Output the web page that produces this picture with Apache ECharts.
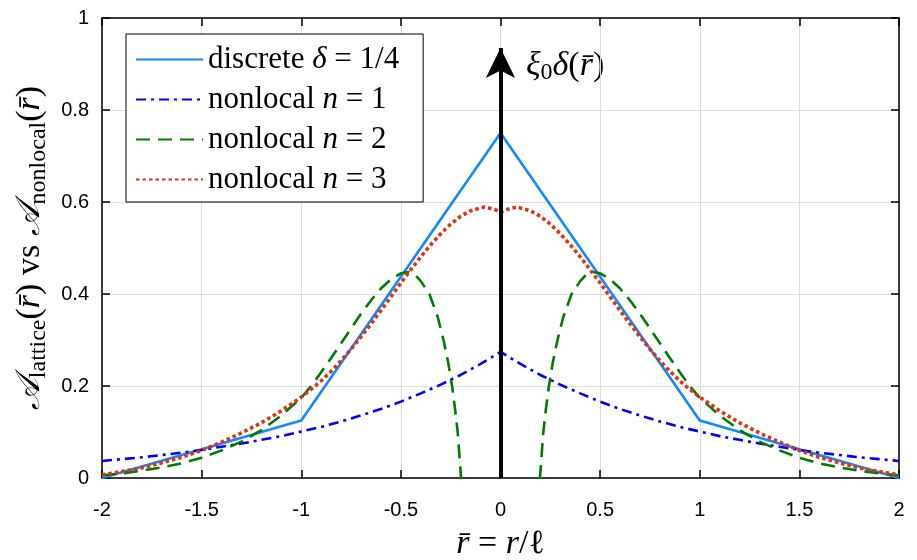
<!DOCTYPE html>
<html>
<head>
<meta charset="utf-8">
<script src="https://cdn.jsdelivr.net/npm/echarts@6/dist/echarts.min.js"></script>
<style>
  html, body { margin: 0; padding: 0; background: #fff; }
  #chart { width: 917px; height: 560px; }
</style>
</head>
<body>
<div id="chart"></div>
<script>
// tick values
const xTicks = [-2, -1.5, -1, -0.5, 0, 0.5, 1, 1.5, 2];
const yTicks = [0, 0.2, 0.4, 0.6, 0.8, 1];

// discrete lattice, delta = 1/4 (knots at integer sites)
const discreteX = [-2, -1, 0, 1, 2];
const discreteY = [0, 0.125, 0.75, 0.125, 0];

// nonlocal n = 1, right half (symmetric)
const n1X = [0, 0.1, 0.2, 0.3, 0.4, 0.5, 0.6, 0.7, 0.8, 0.9, 1.0, 1.1, 1.2, 1.3, 1.4, 1.5, 1.6, 1.7, 1.8, 1.9, 2.0];
const n1Y = [0.274, 0.248, 0.224, 0.203, 0.184, 0.166, 0.150, 0.136, 0.123, 0.111, 0.101, 0.091, 0.083, 0.075, 0.068, 0.061, 0.055, 0.050, 0.045, 0.041, 0.037];

// nonlocal n = 2, right half (dips below zero near the origin)
const n2X = [0.19, 0.198, 0.205, 0.215, 0.228, 0.243, 0.262, 0.286, 0.315, 0.357, 0.4, 0.43, 0.46, 0.5, 0.55, 0.6, 0.65, 0.7, 0.75, 0.8, 0.85, 0.9, 0.95, 1.0, 1.1, 1.2, 1.3, 1.4, 1.5, 1.6, 1.7, 1.8, 1.9, 2.0];
const n2Y = [-0.05, 0, 0.042, 0.1, 0.15, 0.2, 0.25, 0.3, 0.35, 0.4, 0.428, 0.442, 0.448, 0.445, 0.432, 0.412, 0.386, 0.357, 0.325, 0.293, 0.261, 0.23, 0.2, 0.174, 0.136, 0.104, 0.079, 0.060, 0.044, 0.032, 0.023, 0.016, 0.010, 0.006];

// nonlocal n = 3, right half
const n3X = [0, 0.025, 0.05, 0.08, 0.1, 0.15, 0.2, 0.25, 0.3, 0.35, 0.4, 0.45, 0.5, 0.55, 0.6, 0.65, 0.7, 0.75, 0.8, 0.85, 0.9, 0.95, 1.0, 1.1, 1.2, 1.3, 1.4, 1.5, 1.6, 1.7, 1.8, 1.9, 2.0];
const n3Y = [0.578, 0.583, 0.586, 0.589, 0.587, 0.581, 0.569, 0.552, 0.531, 0.507, 0.481, 0.453, 0.424, 0.394, 0.364, 0.335, 0.307, 0.280, 0.255, 0.232, 0.211, 0.193, 0.176, 0.146, 0.120, 0.098, 0.078, 0.060, 0.045, 0.033, 0.022, 0.014, 0.007];

// delta spike drawn as an arrow
const spikeX = 0;
const spikeTop = 0.935;

function pairs(xs, ys) {
  return xs.map((x, i) => [x, ys[i]]);
}
// both halves of a symmetric curve
function mirror(xs, ys) {
  const left = xs.map((x, i) => [-x, ys[i]]).reverse();
  const right = pairs(xs, ys);
  if (xs[0] === 0) left.pop();
  return left.concat(right);
}
// the n=2 curve is drawn as two separate pieces
function mirrorSplit(xs, ys) {
  const left = xs.map((x, i) => [-x, ys[i]]).reverse();
  return left.concat([[0, null]], pairs(xs, ys));
}

const serif = 'Liberation Serif';
const legendNames = {
  d: '{r|discrete }{i|δ}{r| = 1/4}',
  n1: '{r|nonlocal }{i|n}{r| = 1}',
  n2: '{r|nonlocal }{i|n}{r| = 2}',
  n3: '{r|nonlocal }{i|n}{r| = 3}'
};

const chart = echarts.init(document.getElementById('chart'), null, { renderer: 'canvas' });

const axisCommon = {
  type: 'value',
  axisLine: { show: true, onZero: false, lineStyle: { color: '#000', width: 1.5 } },
  axisTick: { show: true, inside: true, length: 8, lineStyle: { color: '#000', width: 1.5 } },
  minorTick: { show: false }
};

const option = {
  animation: false,
  backgroundColor: '#fff',
  grid: { left: 102, right: 18, top: 18, bottom: 82, containLabel: false, outerBoundsMode: 'none' },
  legend: {
    orient: 'vertical',
    left: 126,
    top: 34,
    itemWidth: 67,
    itemHeight: 14,
    itemGap: 9,
    padding: [10, 24, 7, 9],
    backgroundColor: '#fff',
    borderColor: '#000',
    borderWidth: 1,
    borderRadius: 0,
    data: ['d', 'n1', 'n2', 'n3'],
    formatter: name => legendNames[name],
    itemStyle: { color: 'rgba(0,0,0,0)', borderColor: 'rgba(0,0,0,0)', borderWidth: 0 },
    textStyle: {
      rich: {
        r: { fontFamily: serif, fontSize: 31, color: '#000', lineHeight: 30 },
        i: { fontFamily: serif, fontStyle: 'italic', fontSize: 31, color: '#000', lineHeight: 30 }
      }
    }
  },
  xAxis: [
    Object.assign({}, axisCommon, {
      min: -2, max: 2, interval: 0.5,
      position: 'bottom',
      name: '{i|r̄}{r| = }{i|r}{r|/ℓ}',
      nameLocation: 'middle',
      nameGap: 50,
      nameTextStyle: {
        rich: {
          r: { fontFamily: serif, fontSize: 34, color: '#000', lineHeight: 32 },
          i: { fontFamily: serif, fontStyle: 'italic', fontSize: 34, color: '#000', lineHeight: 32 }
        }
      },
      axisLabel: {
        margin: 22,
        fontFamily: 'Liberation Sans', fontSize: 20, color: '#000',
        formatter: v => xTicks.includes(v) ? String(v) : ''
      },
      splitLine: { show: true, lineStyle: { color: '#dcdcdc', width: 1 } }
    }),
    Object.assign({}, axisCommon, {
      min: -2, max: 2, interval: 0.5,
      position: 'top',
      axisLabel: { show: false },
      splitLine: { show: false }
    })
  ],
  yAxis: [
    Object.assign({}, axisCommon, {
      min: 0, max: 1, interval: 0.2,
      position: 'left',
      name: '{a|𝒜}{s|lattice}{r|(}{i|r̄}{r|) vs }{a|𝒜}{s|nonlocal}{r|(}{i|r̄}{r|)}',
      nameLocation: 'middle',
      nameGap: 30,
      nameRotate: 90,
      nameTextStyle: {
        rich: {
          a: { fontFamily: 'DejaVu Serif', fontStyle: 'italic', fontSize: 34, color: '#000', lineHeight: 40 },
          s: { fontFamily: serif, fontSize: 24, color: '#000', lineHeight: 24, verticalAlign: 'bottom' },
          r: { fontFamily: serif, fontSize: 34, color: '#000', lineHeight: 40 },
          i: { fontFamily: serif, fontStyle: 'italic', fontSize: 34, color: '#000', lineHeight: 40 }
        }
      },
      axisLabel: {
        margin: 13,
        fontFamily: 'Liberation Sans', fontSize: 20, color: '#000',
        formatter: v => yTicks.includes(Math.round(v * 10) / 10) ? String(Math.round(v * 10) / 10) : ''
      },
      splitLine: { show: true, lineStyle: { color: '#dcdcdc', width: 1 } }
    }),
    Object.assign({}, axisCommon, {
      min: 0, max: 1, interval: 0.2,
      position: 'right',
      axisLabel: { show: false },
      splitLine: { show: false }
    })
  ],
  graphic: [
    {
      type: 'text',
      left: 526,
      top: 49,
      silent: true,
      style: {
        text: '{i|ξ}{s|0}{i|δ}{r|(}{i|r̄}{r|)}',
        rich: {
          i: { fontFamily: serif, fontStyle: 'italic', fontSize: 34, fill: '#000', lineHeight: 38 },
          s: { fontFamily: serif, fontSize: 24, fill: '#000', lineHeight: 24, verticalAlign: 'bottom' },
          r: { fontFamily: serif, fontSize: 34, fill: '#000', lineHeight: 38 }
        }
      }
    }
  ],
  series: [
    {
      name: 'd', type: 'line', data: pairs(discreteX, discreteY),
      symbol: 'none', smooth: false, z: 3,
      lineStyle: { color: '#1188ff', width: 2.6, type: 'solid' },
      itemStyle: { color: '#1188ff' }
    },
    {
      name: 'n1', type: 'line', data: mirror(n1X, n1Y),
      symbol: 'none', smooth: false, z: 3,
      lineStyle: { color: '#0000ff', width: 2.6, type: [10, 5, 3, 5] },
      itemStyle: { color: '#0000ff' }
    },
    {
      name: 'n2', type: 'line', data: mirrorSplit(n2X, n2Y),
      symbol: 'none', smooth: false, connectNulls: false, clip: true, z: 3,
      lineStyle: { color: '#007a00', width: 2.6, type: [14, 8] },
      itemStyle: { color: '#007a00' }
    },
    {
      name: 'n3', type: 'line', data: mirror(n3X, n3Y),
      symbol: 'none', smooth: false, z: 4,
      lineStyle: { color: '#dd3311', width: 3.6, type: [3.5, 3] },
      itemStyle: { color: '#dd3311' }
    },
    {
      name: 'spike', type: 'line', data: [], z: 6,
      markLine: {
        silent: true,
        animation: false,
        symbol: ['none', 'arrow'],
        symbolSize: [22, 30],
        label: { show: false },
        lineStyle: { color: '#000', width: 4, type: 'solid' },
        emphasis: { disabled: true },
        data: [[{ coord: [spikeX, 0] }, { coord: [spikeX, spikeTop] }]]
      }
    }
  ]
};

chart.setOption(option);
</script>
</body>
</html>
